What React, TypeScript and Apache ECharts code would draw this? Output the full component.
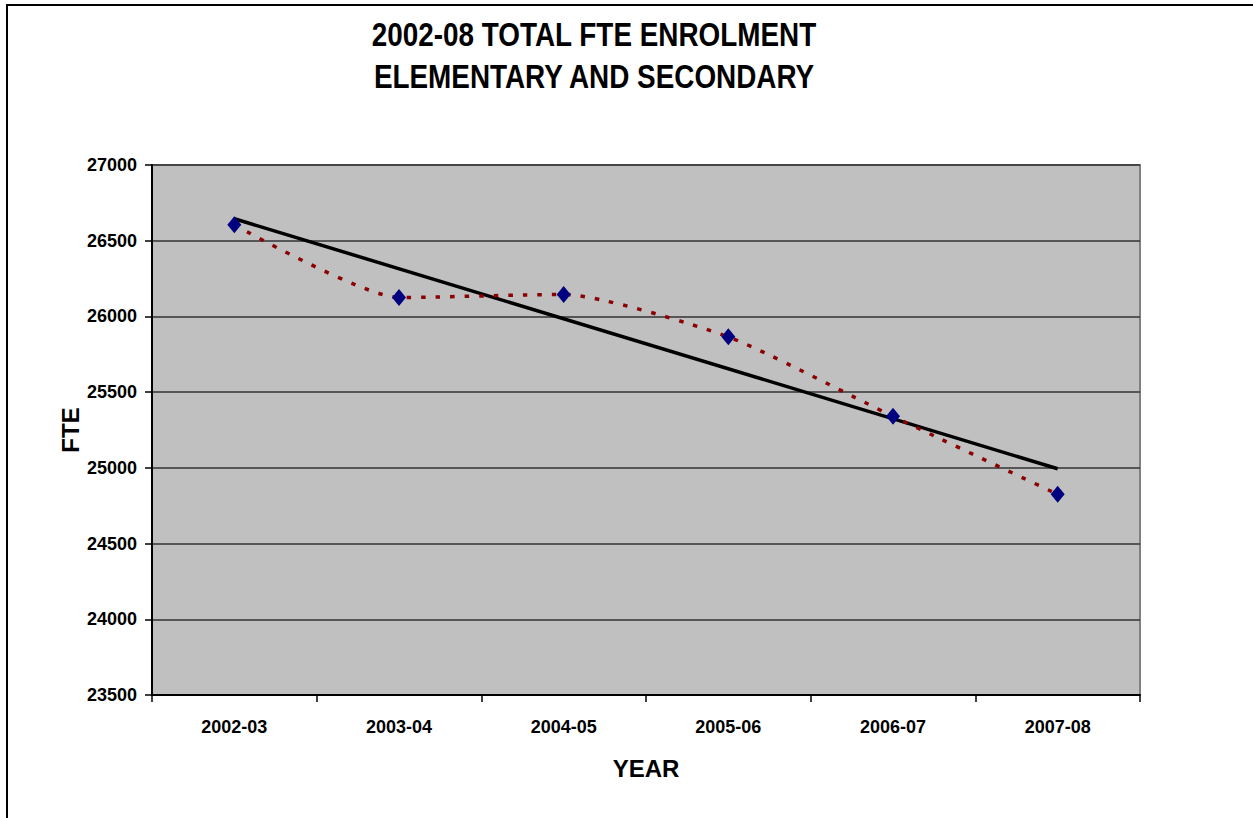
import React, { useEffect, useRef } from "react";
import * as echarts from "echarts";

// School years on the category axis
const years = ["2002-03", "2003-04", "2004-05", "2005-06", "2006-07", "2007-08"];
// Total FTE enrolment per year
const fte = [26605, 26125, 26145, 25865, 25340, 24825];
// Linear trend line: value at the first and at the last year
const trendEnds = [26645, 24994];

const titleLines = ["2002-08 TOTAL FTE ENROLMENT", "ELEMENTARY AND SECONDARY"];
const FONT = '"Liberation Sans", Arial, sans-serif';

export default function App() {
  const ref = useRef<HTMLDivElement>(null);

  useEffect(() => {
    if (!ref.current) return;
    const chart = echarts.init(ref.current, undefined, { renderer: "svg" });

    const trend = years.map((_, i) =>
      i === 0 ? trendEnds[0] : i === years.length - 1 ? trendEnds[1] : null
    );

    // Narrow bold heading: a regular bold face squeezed horizontally
    const heading = (text: string, y: number) => ({
      type: "text",
      x: 594,
      y,
      scaleX: 0.82,
      style: {
        text,
        font: `bold 34px ${FONT}`,
        fill: "#000000",
        align: "center",
        verticalAlign: "middle",
      },
    });

    chart.setOption({
      animation: false,
      backgroundColor: "#ffffff",
      textStyle: { fontFamily: FONT },
      graphic: [
        {
          type: "rect",
          shape: { x: 7, y: 5, width: 1400, height: 1000 },
          style: { fill: "none", stroke: "#000000", lineWidth: 2 },
          silent: true,
        },
        heading(titleLines[0], 35),
        heading(titleLines[1], 77),
      ],
      grid: {
        left: 152,
        top: 165,
        right: 113,
        bottom: 123,
        show: true,
        backgroundColor: "#c0c0c0",
        borderColor: "#808080",
        borderWidth: 2,
      },
      xAxis: {
        type: "category",
        data: years,
        boundaryGap: true,
        name: "YEAR",
        nameLocation: "middle",
        nameGap: 61,
        nameMoveOverlap: false,
        nameTextStyle: { fontFamily: FONT, fontWeight: "bold", fontSize: 24, color: "#000000" },
        axisLine: { show: true, lineStyle: { color: "#000000", width: 2 } },
        axisTick: { show: true, inside: false, length: 7, alignWithLabel: false, lineStyle: { color: "#000000", width: 1.5 } },
        axisLabel: { margin: 23, fontFamily: FONT, fontWeight: "bold", fontSize: 18, color: "#000000" },
        splitLine: { show: false },
      },
      yAxis: {
        type: "value",
        min: 23500,
        max: 27000,
        interval: 500,
        name: "FTE",
        nameLocation: "middle",
        nameGap: 70,
        nameRotate: 90,
        nameMoveOverlap: false,
        nameTextStyle: { fontFamily: FONT, fontWeight: "bold", fontSize: 24, color: "#000000" },
        axisLine: { show: true, lineStyle: { color: "#000000", width: 2 } },
        axisTick: { show: true, inside: false, length: 7, lineStyle: { color: "#000000", width: 1.5 } },
        axisLabel: {
          margin: 15,
          fontFamily: FONT,
          fontWeight: "bold",
          fontSize: 18,
          color: "#000000",
          formatter: (v: number) => String(v),
        },
        splitLine: { show: true, lineStyle: { color: "#333333", width: 1.5 } },
      },
      series: [
        {
          name: "Linear trend",
          type: "line",
          data: trend,
          connectNulls: true,
          showSymbol: false,
          symbol: "none",
          lineStyle: { color: "#000000", width: 3.5, type: "solid" },
          z: 2,
        },
        {
          name: "FTE",
          type: "line",
          data: fte,
          smooth: 0.2,
          symbol: "diamond",
          symbolSize: [14, 17],
          showSymbol: true,
          itemStyle: { color: "#000080", borderWidth: 0 },
          lineStyle: { color: "#8b0000", width: 3.5, type: [4.5, 10] },
          z: 3,
        },
      ],
    });

    return () => chart.dispose();
  }, []);

  return (
    <div
      ref={ref}
      style={{ position: "fixed", left: 0, top: 0, width: 1253, height: 818 }}
    />
  );
}
